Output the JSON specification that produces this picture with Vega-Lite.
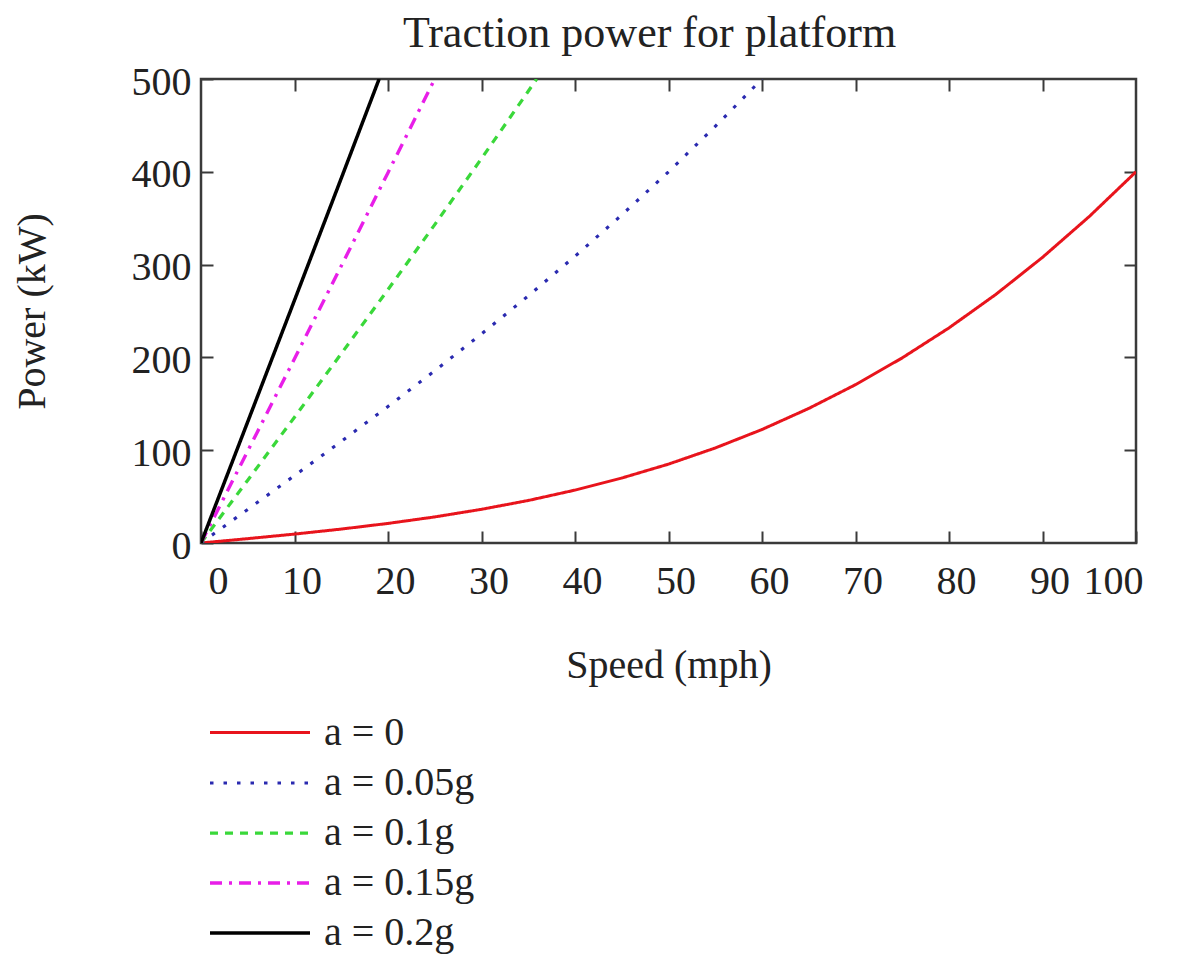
{
  "$schema": "https://vega.github.io/schema/vega-lite/v6.json",
  "autosize": {"type": "none"},
  "width": 935,
  "height": 464,
  "padding": {"left": 201, "top": 79, "right": 58, "bottom": 413},
  "background": "white",
  "config": {
    "font": "Liberation Serif",
    "view": {"stroke": "#3a3a3a", "strokeWidth": 2.5},
    "axis": {
      "domain": false,
      "grid": false,
      "labelFont": "Liberation Serif",
      "labelFontSize": 40,
      "labelColor": "#222",
      "titleFont": "Liberation Serif",
      "titleFontSize": 40,
      "titleFontWeight": "normal",
      "titleColor": "#222",
      "tickColor": "#3a3a3a",
      "tickWidth": 2,
      "tickSize": -12
    }
  },
  "title": {
    "text": "Traction power for platform",
    "orient": "top",
    "frame": "group",
    "font": "Liberation Serif",
    "fontSize": 44,
    "fontWeight": "normal",
    "color": "#222",
    "anchor": "middle",
    "offset": 6,
    "dx": -19
  },
  "data": {
    "values": [
      {"v": 0, "p": 0, "s": "a = 0"},
      {"v": 5, "p": 4.7, "s": "a = 0"},
      {"v": 10, "p": 9.6, "s": "a = 0"},
      {"v": 15, "p": 15.0, "s": "a = 0"},
      {"v": 20, "p": 21.1, "s": "a = 0"},
      {"v": 25, "p": 28.1, "s": "a = 0"},
      {"v": 30, "p": 36.3, "s": "a = 0"},
      {"v": 35, "p": 45.8, "s": "a = 0"},
      {"v": 40, "p": 57.0, "s": "a = 0"},
      {"v": 45, "p": 70.0, "s": "a = 0"},
      {"v": 50, "p": 85.0, "s": "a = 0"},
      {"v": 55, "p": 102.4, "s": "a = 0"},
      {"v": 60, "p": 122.3, "s": "a = 0"},
      {"v": 65, "p": 145.0, "s": "a = 0"},
      {"v": 70, "p": 170.6, "s": "a = 0"},
      {"v": 75, "p": 199.5, "s": "a = 0"},
      {"v": 80, "p": 231.8, "s": "a = 0"},
      {"v": 85, "p": 267.8, "s": "a = 0"},
      {"v": 90, "p": 307.8, "s": "a = 0"},
      {"v": 95, "p": 351.8, "s": "a = 0"},
      {"v": 100, "p": 400.0, "s": "a = 0"},
      {"v": 0, "p": 0, "s": "a = 0.05g"},
      {"v": 5, "p": 36.2, "s": "a = 0.05g"},
      {"v": 10, "p": 72.6, "s": "a = 0.05g"},
      {"v": 15, "p": 109.5, "s": "a = 0.05g"},
      {"v": 20, "p": 147.1, "s": "a = 0.05g"},
      {"v": 25, "p": 185.6, "s": "a = 0.05g"},
      {"v": 30, "p": 225.3, "s": "a = 0.05g"},
      {"v": 35, "p": 266.3, "s": "a = 0.05g"},
      {"v": 40, "p": 309.0, "s": "a = 0.05g"},
      {"v": 45, "p": 353.5, "s": "a = 0.05g"},
      {"v": 50, "p": 400.0, "s": "a = 0.05g"},
      {"v": 55, "p": 448.9, "s": "a = 0.05g"},
      {"v": 60, "p": 500.0, "s": "a = 0.05g"},
      {"v": 0, "p": 0, "s": "a = 0.1g"},
      {"v": 5, "p": 67.7, "s": "a = 0.1g"},
      {"v": 10, "p": 135.6, "s": "a = 0.1g"},
      {"v": 15, "p": 204.0, "s": "a = 0.1g"},
      {"v": 20, "p": 273.1, "s": "a = 0.1g"},
      {"v": 25, "p": 343.1, "s": "a = 0.1g"},
      {"v": 30, "p": 414.3, "s": "a = 0.1g"},
      {"v": 35, "p": 486.8, "s": "a = 0.1g"},
      {"v": 35.9, "p": 500.0, "s": "a = 0.1g"},
      {"v": 0, "p": 0, "s": "a = 0.15g"},
      {"v": 5, "p": 99.2, "s": "a = 0.15g"},
      {"v": 10, "p": 198.6, "s": "a = 0.15g"},
      {"v": 15, "p": 298.5, "s": "a = 0.15g"},
      {"v": 20, "p": 399.1, "s": "a = 0.15g"},
      {"v": 25, "p": 500.0, "s": "a = 0.15g"},
      {"v": 0, "p": 0, "s": "a = 0.2g"},
      {"v": 5, "p": 130.7, "s": "a = 0.2g"},
      {"v": 10, "p": 261.6, "s": "a = 0.2g"},
      {"v": 15, "p": 393.0, "s": "a = 0.2g"},
      {"v": 19.05, "p": 500.0, "s": "a = 0.2g"}
    ]
  },
  "layer": [
    {
      "mark": {"type": "line", "strokeCap": "butt", "clip": true},
      "encoding": {
        "x": {
          "field": "v", "type": "quantitative",
          "scale": {"domain": [0, 100], "nice": false, "zero": false},
          "axis": {
            "orient": "bottom", "values": [0, 10, 20, 30, 40, 50, 60, 70, 80, 90, 100],
            "title": "Speed (mph)", "labelPadding": 30, "labelBaseline": "top", "labelOffset": 7,
            "titleX": 467.5, "titleY": 134, "titleBaseline": "alphabetic", "titleAnchor": "middle"
          }
        },
        "y": {
          "field": "p", "type": "quantitative",
          "scale": {"domain": [0, 500], "nice": false},
          "axis": {
            "orient": "left", "values": [0, 100, 200, 300, 400, 500],
            "title": "Power (kW)", "labelPadding": 22, "labelOffset": 3,
            "titleAngle": 270, "titleX": -157, "titleY": 232,
            "titleAlign": "center", "titleBaseline": "alphabetic", "titleAnchor": "middle"
          }
        },
        "color": {
          "field": "s", "type": "nominal",
          "scale": {
            "domain": ["a = 0", "a = 0.05g", "a = 0.1g", "a = 0.15g", "a = 0.2g"],
            "range": ["#e8141c", "#2a2ab0", "#3ad83a", "#e81ee8", "#000000"]
          },
          "legend": {
            "title": null,
            "orient": "none",
            "legendX": 32,
            "legendY": 627,
            "padding": 0,
            "symbolType": "M-2,0H2",
            "symbolSize": 2500,
            "labelFont": "Liberation Serif",
            "labelFontSize": 40,
            "labelColor": "#222",
            "labelOffset": 37,
            "rowPadding": 3
          }
        },
        "strokeDash": {
          "field": "s", "type": "nominal",
          "scale": {
            "domain": ["a = 0", "a = 0.05g", "a = 0.1g", "a = 0.15g", "a = 0.2g"],
            "range": [[1, 0], [3.5, 10], [8, 7], [12, 7, 3, 7], [1, 0]]
          },
          "legend": null
        },
        "strokeWidth": {
          "field": "s", "type": "nominal",
          "scale": {
            "domain": ["a = 0", "a = 0.05g", "a = 0.1g", "a = 0.15g", "a = 0.2g"],
            "range": [3, 3.5, 3.5, 5, 5]
          },
          "legend": null
        },
        "order": {"field": "v", "type": "quantitative"}
      }
    },
    {
      "mark": {"type": "line", "opacity": 0},
      "encoding": {
        "x": {
          "field": "v", "type": "quantitative",
          "axis": {"orient": "top", "values": [10, 20, 30, 40, 50, 60, 70, 80, 90], "labels": false, "title": null}
        },
        "y": {
          "field": "p", "type": "quantitative",
          "axis": {"orient": "right", "values": [100, 200, 300, 400], "labels": false, "title": null}
        },
        "detail": {"field": "s", "type": "nominal"}
      }
    }
  ],
  "resolve": {"axis": {"x": "independent", "y": "independent"}}
}
